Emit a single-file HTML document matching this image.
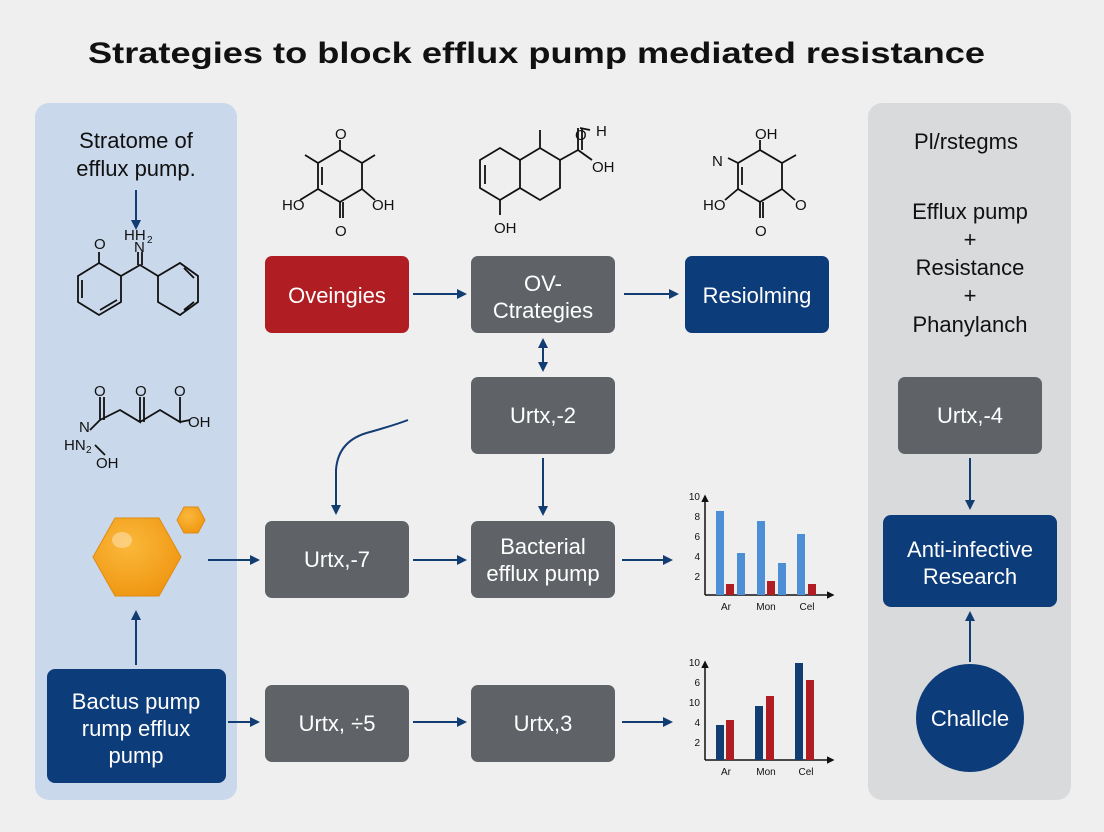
<!DOCTYPE html>
<html><head><meta charset="utf-8"><style>
body{margin:0;background:#efefef;}
svg{display:block;font-family:"Liberation Sans",sans-serif;}
</style></head><body>
<svg width="1104" height="832" viewBox="0 0 1104 832" xmlns="http://www.w3.org/2000/svg">
<defs>
<marker id="a" viewBox="0 0 10 10" refX="8" refY="5" markerWidth="5" markerHeight="5" orient="auto-start-reverse"><path d="M0,0L10,5L0,10z" fill="#123d73"/></marker>
<marker id="k" viewBox="0 0 10 10" refX="8" refY="5" markerWidth="5" markerHeight="5" orient="auto"><path d="M0,0L10,5L0,10z" fill="#111"/></marker>
<radialGradient id="g" cx="0.4" cy="0.35" r="0.7"><stop offset="0" stop-color="#fbb83a"/><stop offset="1" stop-color="#ef9612"/></radialGradient>
</defs>
<rect width="1104" height="832" fill="#efefef"/>
<text x="88" y="63" font-size="30" font-weight="bold" fill="#111" textLength="897" lengthAdjust="spacingAndGlyphs">Strategies to block efflux pump mediated resistance</text>
<rect x="35" y="103" width="202" height="697" rx="14" fill="#c9d8eb"/>
<rect x="868" y="103" width="203" height="697" rx="14" fill="#d9dadc"/>
<g font-size="22" fill="#111" text-anchor="middle">
<text x="136" y="148">Stratome of</text><text x="136" y="176">efflux pump.</text>
<text x="966" y="149">Pl/rstegms</text>
<text x="970" y="219">Efflux pump</text><text x="970" y="247">+</text>
<text x="970" y="275">Resistance</text><text x="970" y="303">+</text>
<text x="970" y="332">Phanylanch</text>
</g>
<g stroke="#111" stroke-width="1.8" fill="none">
<path d="M99,263 L121,276 L121,302 L99,315 L78,302 L78,276 Z M82,280 L82,298 M100,310 L117,300"/>
<path d="M99,263 L99,252 M121,276 L140,265 L158,276 L158,302 L180,315 L198,302 L198,276 L180,263 L158,276 M138,265 L138,252 M142,265 L142,252 M184,268 L194,278 M184,310 L194,302"/>
<path d="M100,420 L120,410 L140,422 L140,397 M144,422 L144,397 M140,422 L160,410 L180,422 L180,397 M180,422 L190,420 M100,420 L100,397 M104,420 L104,397 M100,420 L90,430 M95,445 L105,455"/>
<path d="M340,150 L362,163 L362,189 L340,202 L318,189 L318,163 Z M322,167 L322,185 M340,150 L340,140 M340,202 L340,218 M343,202 L343,218 M362,163 L375,155 M318,163 L305,155 M318,189 L300,200 M362,189 L375,200"/>
<path d="M480,160 L500,148 L520,160 L520,188 L500,200 L480,188 Z M485,165 L485,184 M500,200 L500,215 M520,160 L540,148 L560,160 L560,188 L540,200 L520,188 M540,148 L540,130 M560,160 L578,150 L578,128 M582,150 L582,128 M578,150 L592,160 M580,128 L590,130"/>
<path d="M760,150 L782,163 L782,189 L760,202 L738,189 L738,163 Z M742,167 L742,185 M760,150 L760,140 M760,202 L760,218 M763,202 L763,218 M782,163 L796,155 M738,163 L728,158 M738,189 L725,200 M782,189 L795,200"/>
</g>
<g font-size="15" fill="#111">
<text x="94" y="249">O</text><text x="124" y="240">HH</text><text x="147" y="243" font-size="10">2</text><text x="134" y="252">N</text>
<text x="94" y="396">O</text><text x="135" y="396">O</text><text x="174" y="396">O</text><text x="188" y="427">OH</text>
<text x="79" y="432">N</text><text x="64" y="450">HN</text><text x="86" y="453" font-size="10">2</text><text x="96" y="468">OH</text>
<text x="335" y="139">O</text><text x="282" y="210">HO</text><text x="372" y="210">OH</text><text x="335" y="236">O</text>
<text x="494" y="233">OH</text><text x="575" y="140">O</text><text x="596" y="136">H</text><text x="592" y="172">OH</text>
<text x="755" y="139">OH</text><text x="712" y="166">N</text><text x="703" y="210">HO</text><text x="795" y="210">O</text><text x="755" y="236">O</text>
</g>
<g>
<rect x="265" y="256" width="144" height="77" rx="7" fill="#b01e23"/>
<rect x="471" y="256" width="144" height="77" rx="7" fill="#5f6367"/>
<rect x="685" y="256" width="144" height="77" rx="7" fill="#0d3c7a"/>
<rect x="471" y="377" width="144" height="77" rx="7" fill="#5f6367"/>
<rect x="265" y="521" width="144" height="77" rx="7" fill="#5f6367"/>
<rect x="471" y="521" width="144" height="77" rx="7" fill="#5f6367"/>
<rect x="265" y="685" width="144" height="77" rx="7" fill="#5f6367"/>
<rect x="471" y="685" width="144" height="77" rx="7" fill="#5f6367"/>
<rect x="47" y="669" width="179" height="114" rx="8" fill="#0d3c7a"/>
<rect x="898" y="377" width="144" height="77" rx="7" fill="#5f6367"/>
<rect x="883" y="515" width="174" height="92" rx="8" fill="#0d3c7a"/>
<circle cx="970" cy="718" r="54" fill="#0d3c7a"/>
</g>
<g font-size="22" fill="#fff" text-anchor="middle">
<text x="337" y="303">Oveingies</text>
<text x="543" y="291">OV-</text><text x="543" y="318">Ctrategies</text>
<text x="757" y="303">Resiolming</text>
<text x="543" y="423">Urtx,-2</text>
<text x="337" y="567">Urtx,-7</text>
<text x="543" y="554">Bacterial</text><text x="543" y="581">efflux pump</text>
<text x="337" y="731">Urtx, ÷5</text>
<text x="543" y="731">Urtx,3</text>
<text x="136" y="709">Bactus pump</text><text x="136" y="736">rump efflux</text><text x="136" y="763">pump</text>
<text x="970" y="423">Urtx,-4</text>
<text x="970" y="557">Anti-infective</text><text x="970" y="584">Research</text>
<text x="970" y="726">Challcle</text>
</g>
<polygon points="115,518 159,518 181,557 159,596 115,596 93,557" fill="url(#g)" stroke="#e08a10"/>
<ellipse cx="122" cy="540" rx="10" ry="8" fill="#fff" opacity="0.35"/>
<polygon points="184,507 198,507 205,520 198,533 184,533 177,520" fill="url(#g)" stroke="#e08a10"/>
<g stroke="#123d73" stroke-width="2" fill="none" marker-end="url(#a)">
<path d="M136,190 L136,228"/>
<path d="M413,294 L465,294"/>
<path d="M624,294 L677,294"/>
<path d="M543,340 L543,370" marker-start="url(#a)"/>
<path d="M543,458 L543,514"/>
<path d="M408,420 Q395,425 370,432 Q338,440 336,470 L336,513"/>
<path d="M208,560 L258,560"/>
<path d="M413,560 L465,560"/>
<path d="M622,560 L671,560"/>
<path d="M136,665 L136,612"/>
<path d="M228,722 L258,722"/>
<path d="M413,722 L465,722"/>
<path d="M622,722 L671,722"/>
<path d="M970,458 L970,508"/>
<path d="M970,662 L970,613"/>
</g>
<g stroke="#111" stroke-width="1.5" fill="none">
<path d="M705,595 L705,496" marker-end="url(#k)"/><path d="M705,595 L833,595" marker-end="url(#k)"/>
<path d="M705,760 L705,662" marker-end="url(#k)"/><path d="M705,760 L833,760" marker-end="url(#k)"/>
</g>
<g font-size="10" fill="#111" text-anchor="end">
<text x="700" y="500">10</text><text x="700" y="520">8</text><text x="700" y="540">6</text><text x="700" y="560">4</text><text x="700" y="580">2</text>
<text x="700" y="666">10</text><text x="700" y="686">6</text><text x="700" y="706">10</text><text x="700" y="726">4</text><text x="700" y="746">2</text>
</g>
<g font-size="10" fill="#111" text-anchor="middle">
<text x="726" y="610">Ar</text><text x="766" y="610">Mon</text><text x="807" y="610">Cel</text>
<text x="726" y="775">Ar</text><text x="766" y="775">Mon</text><text x="806" y="775">Cel</text>
</g>
<g>
<rect x="716" y="511" width="8" height="84" fill="#4d8fd6"/><rect x="726" y="584" width="8" height="11" fill="#b01e23"/>
<rect x="737" y="553" width="8" height="42" fill="#4d8fd6"/>
<rect x="757" y="521" width="8" height="74" fill="#4d8fd6"/><rect x="767" y="581" width="8" height="14" fill="#b01e23"/>
<rect x="778" y="563" width="8" height="32" fill="#4d8fd6"/>
<rect x="797" y="534" width="8" height="61" fill="#4d8fd6"/><rect x="808" y="584" width="8" height="11" fill="#b01e23"/>
<rect x="716" y="725" width="8" height="35" fill="#123d73"/><rect x="726" y="720" width="8" height="40" fill="#b01e23"/>
<rect x="755" y="706" width="8" height="54" fill="#123d73"/><rect x="766" y="696" width="8" height="64" fill="#b01e23"/>
<rect x="795" y="663" width="8" height="97" fill="#123d73"/><rect x="806" y="680" width="8" height="80" fill="#b01e23"/>
</g>
</svg>
</body></html>
